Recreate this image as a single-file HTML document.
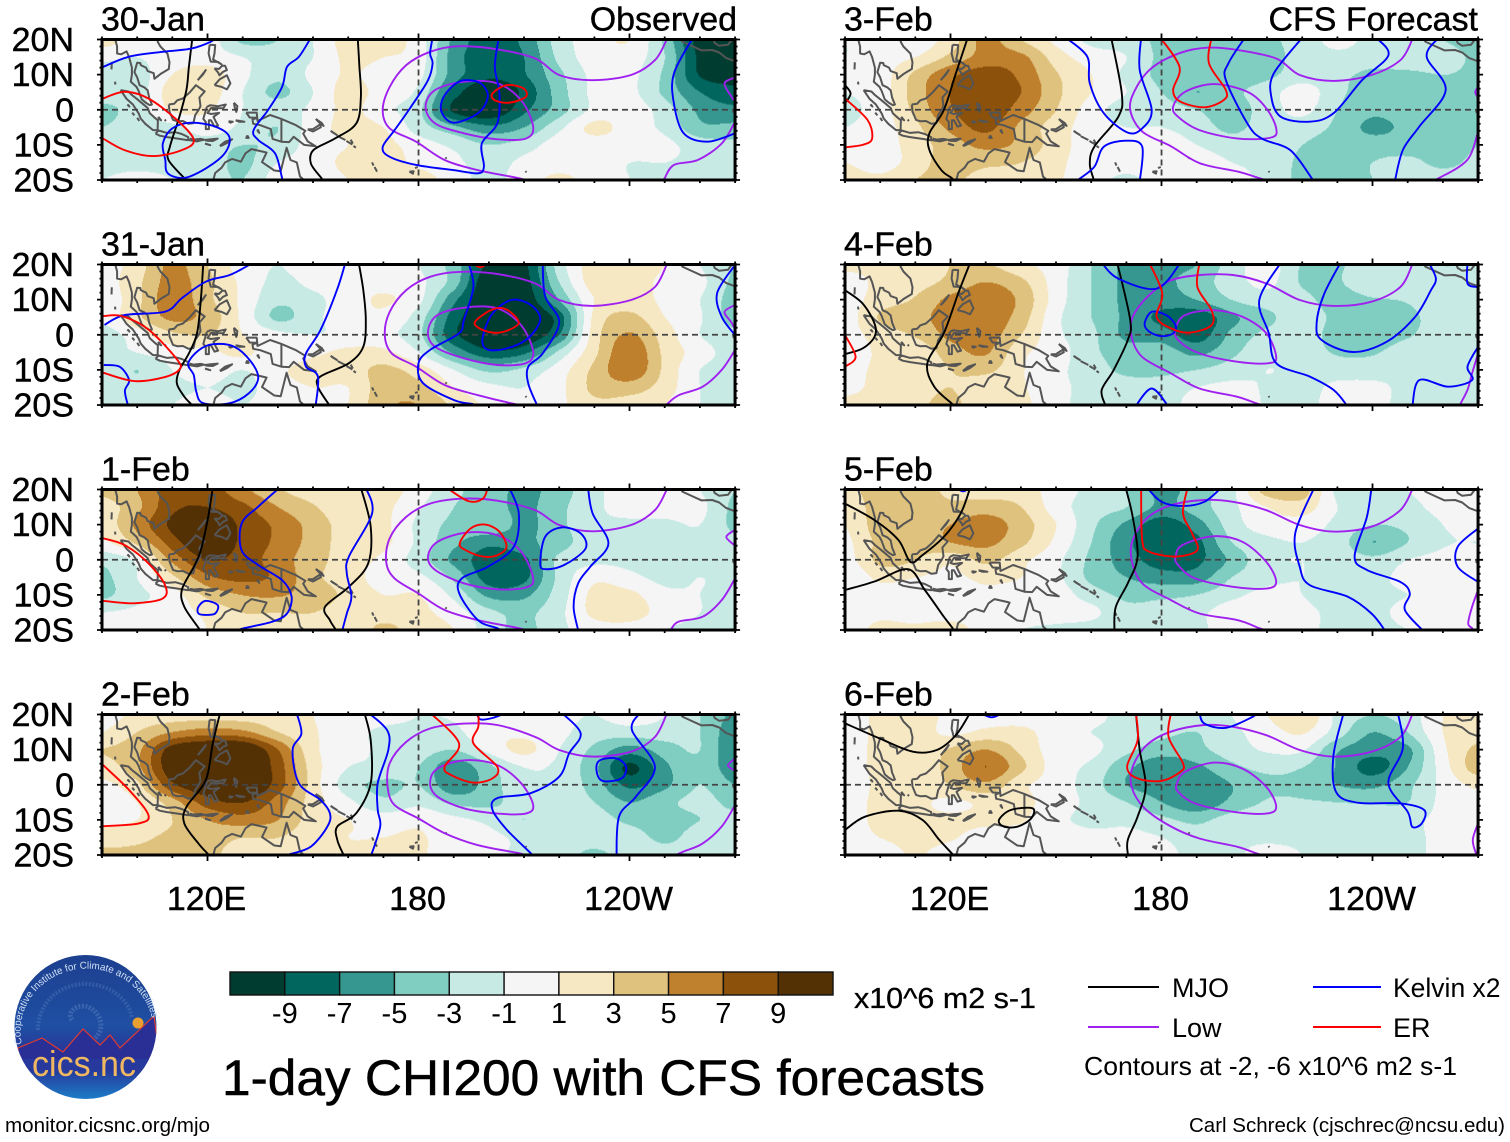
<!DOCTYPE html>
<html lang="en">
<head>
<meta charset="utf-8">
<title>1-day CHI200 with CFS forecasts</title>
<style>
html,body{margin:0;padding:0;background:#fff;}
body{width:1510px;height:1142px;overflow:hidden;}
svg{display:block;font-family:"Liberation Sans",sans-serif;fill:#000;}
</style>
</head>
<body>
<svg id="chart" xmlns="http://www.w3.org/2000/svg" width="1510" height="1142" viewBox="0 0 1510 1142">
  <rect width="1510" height="1142" fill="#fff"/>
  <g id="panels"></g>
  <g id="colorbar"></g>
  <text x="854" y="1008" font-size="29" textLength="182" lengthAdjust="spacingAndGlyphs" stroke="#000" stroke-width="0.3">x10^6 m2 s-1</text>
  <text x="222" y="1095" font-size="50" textLength="763" lengthAdjust="spacingAndGlyphs" stroke="#000" stroke-width="0.5">1-day CHI200 with CFS forecasts</text>
  <g>
    <line x1="1088" x2="1159" y1="987" y2="987" stroke="#000" stroke-width="2"/>
    <text x="1172" y="997" font-size="27">MJO</text>
    <line x1="1313" x2="1381" y1="987" y2="987" stroke="#0000ff" stroke-width="2"/>
    <text x="1393" y="997" font-size="26.5">Kelvin x2</text>
    <line x1="1088" x2="1159" y1="1027" y2="1027" stroke="#a020f0" stroke-width="2"/>
    <text x="1172" y="1037" font-size="27">Low</text>
    <line x1="1313" x2="1381" y1="1027" y2="1027" stroke="#ff0000" stroke-width="2"/>
    <text x="1393" y="1037" font-size="27">ER</text>
    <text x="1084" y="1075" font-size="26" textLength="373" lengthAdjust="spacingAndGlyphs">Contours at -2, -6 x10^6 m2 s-1</text>
  </g>
  <text x="5" y="1132" font-size="20" textLength="205" lengthAdjust="spacingAndGlyphs">monitor.cicsnc.org/mjo</text>
  <text x="1189" y="1132" font-size="20" textLength="316" lengthAdjust="spacingAndGlyphs">Carl Schreck (cjschrec@ncsu.edu)</text>
  <g>
    <defs>
      <linearGradient id="logoSky" x1="0" y1="0" x2="0" y2="1">
        <stop offset="0" stop-color="#1d3f8f"/>
        <stop offset="0.5" stop-color="#1f4fa3"/>
        <stop offset="0.72" stop-color="#2a2f96"/>
        <stop offset="0.82" stop-color="#25409f"/>
        <stop offset="1" stop-color="#1c7cc8"/>
      </linearGradient>
      <clipPath id="logoClip"><ellipse cx="85.5" cy="1027" rx="71" ry="72"/></clipPath>
      <path id="logoArc" d="M 22 1044 A 64 60 0 1 1 152 1018"/>
    </defs>
    <ellipse cx="85.5" cy="1027" rx="71" ry="72" fill="url(#logoSky)"/>
    <path d="M72 1028c-6-8 6-18 18-12s16 24 2 32" transform="translate(0,-8)" fill="none" stroke="#5f86c4" stroke-width="5" stroke-dasharray="2 1.5" opacity="0.45"/>
    <path d="M38 1030c0-28 22-46 48-46s44 18 46 34" fill="none" stroke="#5f86c4" stroke-width="4" stroke-dasharray="2 1.5" opacity="0.35"/>
    <g clip-path="url(#logoClip)">
      <path d="M18 1048L42 1038L54 1046L63 1052L83 1029L100 1045L110 1035L120 1048L154 1016L160 1060L18 1060Z" fill="#2a2f96" stroke="#e03a30" stroke-width="1.2"/>
      <rect x="10" y="1059" width="150" height="12" fill="#27399c"/>
    </g>
    <circle cx="138" cy="1023" r="5.5" fill="#e8a030"/>
    <text font-size="10" fill="#cfe0f5"><textPath href="#logoArc" textLength="202" lengthAdjust="spacingAndGlyphs">Cooperative Institute for Climate and Satellites</textPath></text>
    <text x="84" y="1076" text-anchor="middle" font-size="36" fill="#f0b860" textLength="104" lengthAdjust="spacingAndGlyphs">cics.nc</text>
  </g>
</svg>
<script>
// ---------- Axis data ----------
const gridLons = [90,100,110,120,130,140,150,160,170,180,190,200,210,220,230,240,250,260,270];
const gridLats = [20,15,10,5,0,-5,-10,-15,-20];
const panelDates = ['30-Jan','31-Jan','1-Feb','2-Feb','3-Feb','4-Feb','5-Feb','6-Feb'];
const latTickLabels = ['20N','10N','0','10S','20S'];
const latTickValues = [20,10,0,-10,-20];
const lonTickLabels = ['120E','180','120W'];
const lonTickValues = [120,180,240];
const bandEdges = [-9,-7,-5,-3,-1,1,3,5,7,9];

// ---------- CHI200 anomaly fields (x10^6 m2 s-1), rows by gridLats, columns by gridLons ----------
const chi30Jan = [
[2,0,0,0,-3.5,-3,-1,2,2,0,-5.5,-8,-6.5,-2,0,1,-3.5,-10,-10.5],
[-0.5,-1,0,0,-1,-2,-1,1.5,1,0,-6,-8.2,-7,-2.5,0,0,-3,-9.5,-10.5],
[-2,-2,1,2,-0.5,-2.5,-0.5,1.2,0,-0.5,-6,-8.5,-7.2,-3.5,-0.5,-0.5,-3.5,-9.2,-9.8],
[-2,-2,2,2,-1,-3.5,-1,1.8,0,-1.5,-8,-11,-8.5,-4,-0.5,-0.5,-3.5,-7,-8.5],
[-3.5,-2,1.2,1.2,-1,-2,-0.5,1.5,-0.5,-2.5,-9.5,-11,-7.5,-4,-0.5,0,-2,-5.5,-6.5],
[-3,-2,-1.5,0,-1.5,-3,0,1.5,1,-2,-4.5,-6.5,-5,-1.5,1.5,0,-1.5,-4.5,-4.5],
[-2,-2,-2,-2,-3,-2.5,0,1,1.5,0,-1.5,-3,-2,0,0,0,-0.5,-2,-2.5],
[-2,-2,-2,-2,-3.5,-1,0,1.5,2,0.5,-0.5,-2,-0.5,0,0,-1,-1,-1.5,-2],
[-1,0,-1,-2,-3,0,0,1,2,2,0,-1.5,0,1.5,0,-1,-1.5,-1.5,-2]];
const chi31Jan = [
[0,2,5.5,3,0,-1,0,0,1,-1,-4,-9.5,-9.5,-2,2,2,1,-1,-3],
[0,2.5,5.8,3.5,0.5,-1.5,-0.5,0,0.5,-0.5,-4,-11,-10,-3,2,2,0.5,-0.5,-3.5],
[-0.5,2.5,6.2,3.5,0.5,-2.5,-1.5,0,1.2,-0.5,-6.5,-11,-10.5,-5,1,2,0.5,-1,-4],
[-0.5,2.5,5.5,4.2,0.5,-3.5,-1.5,0,0.5,-2,-8,-11,-11,-8,1.5,3.5,1,-0.8,-4],
[-2,0,2.5,3,1,-0.5,-1,-0.5,-0.5,-2.5,-8.5,-11,-11,-7,2,5.2,2,-1,-2.5],
[-1.5,-1,0,0.5,1.5,-0.5,0.5,1.5,1.5,-1,-5.5,-8.5,-7.5,-2.5,2.5,6.5,2.5,0,-2],
[-1.5,-3,-1,0,-1,0.5,2,2,3.5,2,-1,-3.5,-2.5,0,3.5,6.5,2.5,-1,-2],
[-1.5,-2,-1.5,-1,-1.5,0,1,1,4,3.5,1,-0.5,-1,0.5,3.5,4,2,-1,-2],
[-2,-1,-1,0,-1,0,0.5,1,4.5,5,2.5,0.5,-1,0.5,2.5,2,1,-1,-2]];
const chi1Feb = [
[3.5,5,8,8,5.5,3.2,2,1.5,2,0,-2.5,-4,-5.5,-4,-1.5,0,0,-1,-3],
[2,4.5,8.5,9,7.5,5,3.2,1.5,1.5,-0.8,-3,-4,-5.5,-3.5,-1.5,0,0,-0.5,-3.5],
[1.5,5.5,9.5,11,8.5,6.5,4.2,2,1.5,-1.5,-3.5,-3.5,-5.5,-3.5,-1.5,-1.5,-1.5,-1,-3.5],
[0.5,3.5,8,11,8.5,6.5,4.2,2,1.5,-1.5,-4.5,-6.5,-5.5,-4,-1.5,-1.5,-2,-1.5,-2.5],
[-2.5,-0.5,5.5,9,8,6,3.8,2,0.5,-2,-5.5,-8,-7.5,-2.5,-1.5,-1.5,-1.5,-1.5,-2],
[-3.5,-1,2.5,6.5,7.5,6.5,3.5,2,0,-0.5,-3.5,-8,-7.5,-2.5,0.5,-0.5,-1.5,-1,-1.5],
[-3.5,-1.5,0,3.5,5,5.2,4,2.5,1,1,-1.5,-5.5,-5.5,-2,1.5,1.5,-0.5,-1,-1.5],
[-1,-0.5,0,1.5,3,3,3,2,2,1.5,0,-2.5,-3.5,-1.5,1.5,2,0,-1,-1.5],
[0,1,0,1,2,2,2,1.5,3.5,2,1,-2,-3.5,-1.5,0,0,-1,-1.5,-1.5]];
const chi2Feb = [
[0,1.5,2,2,2,2,1,0,0,-1,-0.8,0,0,-0.5,-1,0,-1,-3,-5.5],
[1,3,5,6,5.5,3,1.2,0,-1.5,-1.5,-1.5,0.5,0.5,-0.5,-2,-2,-2,-3,-6.5],
[3,4.5,10,11.5,11.5,7,1.5,0,-1.5,-2,-3,-0.5,1.5,-1,-3.5,-6,-4,-3,-7],
[2,4.5,10.5,12,12,8,2,-1,-1.5,-3,-6.5,-3.5,-1,-1.5,-4.5,-9.5,-5.5,-3.5,-6.5],
[0.5,2.5,8.5,11,11.5,8,2,-2,-3.5,-3,-6.5,-4,-1.5,-1.5,-4,-7.5,-5.5,-3,-5],
[0,1,4,8,9,6,2,-0.5,-2.5,-1.5,-3.5,-3.5,-2,-1.5,-3,-5,-3.5,-2.5,-3.5],
[0.5,1,3,5,6,5,2,1,0,0.5,-0.5,-1.5,-3,-1.5,-2,-3.5,-4,-3,-2.5],
[2,2.5,3.5,4,3,3,1.5,1,1,1.2,0,-0.5,-1.5,-2,-2,-2,-3.5,-2,-2],
[3.5,3.5,4,3.5,2,2,1.2,1.2,1.2,1.2,0,-0.5,-1.5,-2,-3.5,-2,-2,-2,-2]];
const chi3Feb = [
[-1,-0.5,-0.5,2,5.5,3,0.5,-1.5,-2,-3.5,-4,-4,-3.5,-2,-0.5,-1.5,-2,-3,-4],
[-1,0,1,3.5,5.8,5.5,2,0,-1,-3.5,-3.8,-4,-4,-2,-1.5,-2,-1.5,-2,-3.5],
[-0.5,0,3.5,6.5,8,6.5,3.2,1,-1.5,-3.5,-3.5,-4,-3.5,-2,-2.5,-3.5,-3.5,-3,-3.5],
[-1,0,4,7,8.6,7,3.5,1,-1,-3,-5,-3.5,-2,0,-2.5,-4,-4,-4,-3.5],
[-1.5,0,3.5,6.8,8.4,6,3,0,-2,-2,-3,-4,-2,-0.5,-3,-4.5,-4,-4,-3.5],
[-1,0,2.5,5.5,7.5,4.5,2,0,-1,-1,-2,-3.5,-2,-2,-3.5,-5.5,-4.5,-4,-3],
[0,0,2,4,5.5,4.5,2,0,0,0,-1,-2,-1.5,-3,-4,-4,-4,-4,-3],
[1,0,2,4,3.5,3,1.5,0,0,0,0,-1,-1.5,-3.5,-4,-3,-2.5,-3.5,-2.5],
[2,1.5,3,3.5,2,2,1.2,0,-1.5,0,0,-0.5,-1.5,-3.5,-3.5,-3,-2,-2,-2]];
const chi4Feb = [
[1.5,1.5,1.5,3,3.2,1.5,0,-3,-5.5,-5.5,-5,-2,0,-3.2,-3.2,-2,-1.5,-3,-2.5],
[0,1.5,2.2,3.5,5,3.5,0,-3,-5.5,-5.5,-4,-2,-0.5,-3.2,-3.2,-1.5,-1.5,-2.5,-2],
[0,2,3.2,5.5,6.5,4.5,0,-3,-5.5,-6,-5,-3,-2,-2.5,-3.8,-3.2,-2.8,-1.5,-2],
[0,3.2,4.2,6,6.5,4,-0.5,-3,-5.5,-7.5,-8.5,-5.5,-3.5,-2,-3.5,-3.8,-3.5,-2,-2],
[0,2,3.2,5.5,6,3,-0.5,-2.5,-5.5,-6,-8,-4.5,-2.5,-2,-3.8,-4,-3.2,-2,-2],
[-1,1.5,1.5,4,5.2,1.5,0,-2.5,-4,-4,-5.5,-3.5,-1.5,-2,-3.2,-3.2,-2,-1.5,-2],
[0,1.5,1.5,3,3.5,1.2,-0.5,-2,-3.5,-3.5,-3,-2,-1,-1.5,-2,-2,-1.5,-1.5,-2],
[0.5,1.5,2,3,1.5,1.2,-0.5,-1.5,-2,-2,-1,-0.5,-1.2,-1.8,-0.5,-0.5,-1.5,-1.5,-2],
[1.5,1.5,2.5,3.5,1.5,1.5,-0.5,-1.5,-1.5,-1.5,-0.5,0,-1.2,-1.8,0,-0.5,-1.5,-1.5,-2]];
const chi5Feb = [
[2.5,3.8,4,2.5,2,2,0,-1.5,-3,-5.5,-4,-1.5,4,4,-1.5,-1.5,-1,-0.5,-1],
[1.5,4,4,3.5,4,3,0,-2,-3,-5.5,-4,-1.5,1,2,-1,-2,-1.5,-0.5,-0.5],
[1,4,4,5,6,4,1,-2.5,-5.5,-8.2,-6,-2,0,0,-1.5,-3,-2.5,-1,-0.5],
[0.5,3.5,3.5,5,5.5,3.5,0.5,-3,-6.5,-8.4,-7.6,-3,-1.5,-1,-2,-5,-3,-1.2,-1],
[0,3.5,3,1.5,3.5,1.5,-0.5,-3.5,-6,-8,-7.5,-4.5,-1.5,-1,-1.5,-2.5,-1,-0.5,-0.5],
[-1,1.5,1,0.5,1.5,1,-0.5,-3.5,-5,-6,-6,-3,-1.5,-1,-1.5,-1.5,-0.5,-0.5,-0.5],
[0,0,0,0,0.5,0,0,-2,-3.5,-3.5,-3,-1.5,-0.5,-1,-2,-1.5,-1,-0.5,-0.5],
[0,0.5,0,0,0,0,0,-0.5,-2.5,-2,-1.5,0,0,-0.5,-1.5,-1.5,-0.5,-0.5,-0.5],
[0,1.5,1.5,2,0,-1,-1.5,-2,-3,-2,-1.5,0,0,-0.5,-1.5,-1.5,-1,-0.5,-0.5]];
const chi6Feb = [
[0,1.5,3,0,0,0,0,-0.5,-1.5,-1.5,-2,-1,1,3,-1.5,-3,-2,1,1.5],
[0,1.5,2,0.5,1.5,1.5,0,-1,-1.5,-2.5,-3,-1.5,0,1.2,-2,-5,-3,1,2],
[0,1.5,1.5,3.2,5,2.5,0,-0.5,-2.5,-4,-3.5,-2,-0.8,-0.8,-4.8,-6.2,-5.5,0.5,3.5],
[0,1.5,1.5,3.8,7,3.5,0,-1.5,-4.5,-6.5,-5.5,-3.5,-2.5,-3,-5.2,-7.8,-5,0,4],
[-0.5,1.5,1.5,3,4.5,1.5,0,-2,-5,-6,-6.5,-5,-3.5,-3.5,-5,-5.5,-3.5,-0.5,1.5],
[0,1.5,1.5,0.5,1.5,1.5,0,-1.5,-3,-5,-6.5,-4.5,-2.8,-2.8,-3,-3.2,-3,-0.5,0],
[0,1.5,1.5,1.5,1.5,1.2,-0.5,-1.5,-1.5,-2.5,-3.5,-2,-1.5,-1.5,-1.5,-1.8,-1.5,-0.5,0],
[0,1,1.5,1.2,0,0,0,-0.5,-0.5,-1,-2,-1.5,-1.5,-1.5,-1.5,-1.8,-1.5,-0.5,0],
[0,0,1.2,0,0,0,0,-0.5,-0.5,-0.5,-1.5,-1.5,0,-1,-1.5,-1.8,-1.5,-0.5,0]];

// ---------- Filtered-mode contours: each contour is [lon,lat,lon,lat,...] ----------
const low30Jan = [
[250.6,20,247.2,14.1,240.4,9.9,229.5,8.4,220,9.9,213.2,14.6,202.4,17.2,191.5,18.1,183.3,16.5,176.5,12.7,171.8,6.5,169.8,-0.1,171.8,-5.3,179.3,-9.1,187.4,-14.3,196.9,-17.2,208.5,-19.5,212,-20.5],
[182,0.9,184.7,5.6,192.9,8,202.4,7.5,209.2,2.7,212.6,-4.8,210.5,-8.2,202.4,-8.4,192.9,-6.7,184.7,-3.9,182,0.9],
[270,-3.4,266.2,-9.6,259.4,-14.3,252.6,-15.7,250,-19.5,249.5,-20.5],
[270,9.2,267,7.5,269,3.7,270,2.3]];
const low31Jan = [
[250.6,20,247.2,13.6,240.4,9.9,229.5,8.2,220,9.9,213.2,14.6,202.4,17.3,191.5,17.9,183.3,16.5,176.5,12.7,171.8,6.5,170.4,-0.1,172.4,-5.3,179.3,-9.1,187.4,-14.3,196.9,-17.2,207.7,-19.8,212,-20.5],
[182.7,0.9,185.4,5.6,193.5,7.8,202.4,7.5,209.2,2.7,212.6,-4.8,210.5,-8.1,202.4,-8.6,192.9,-6.7,184.7,-3.4,182.7,0.9],
[270,-4.3,266.2,-10,260.8,-14.8,254,-17.2,250.6,-19.8,250,-20.5],
[270,8.5,267,6.5,269,3.5,270,1.5]];
const low1Feb = [
[250.6,20,247.2,14.1,240.4,9.9,229.5,8.1,220,9.9,213.2,14.1,202.4,16.8,192.9,17.4,183.3,16,176.5,12.2,171.8,6.1,170.8,-0.6,173.2,-5.3,180,-9.6,187.4,-14.3,196.9,-17.2,208.5,-19.5,212,-20.5],
[182.7,0.9,185.4,5.1,193.5,7.7,202.4,7,209.2,2.3,212.6,-5.3,210.5,-7.9,202.4,-8.4,192.9,-6.7,184.7,-2.9,182.7,0.9],
[270,-5.3,266.2,-11.5,260.8,-16.2,254,-17.6,252,-19.5,251.5,-20.5],
[270,8.5,267.5,6.5,270,4]];
const low2Feb = [
[250.6,20.2,247.2,13.6,240.4,9.4,229.5,8,220,9.9,213.2,13.6,202.4,17,192.9,17.4,183.3,16,176.5,12.2,171.8,6.1,171.2,-0.6,173.2,-5.8,180,-9.6,187.4,-13.8,196.9,-17.2,208.5,-19.5,212,-20.5],
[183.3,0.4,185.4,4.6,193.5,7,202.4,5.6,209.2,0.4,212.6,-5.8,210.5,-8.2,202.4,-8.2,192.9,-6.7,185.4,-3.4,183.3,0.4],
[270,-5.8,266.2,-11.9,260.8,-16.7,255.4,-19,252,-20.5],
[270,7.5,268,5.5,270,4]];
const low3Feb = [
[251.3,20,247.9,14.1,239.7,9.9,228.9,8.2,219.3,9.9,212.6,14.6,201.7,17,193.5,17.7,185.4,16.2,177.2,11.9,172.5,5.7,171.1,0,174.5,-6.2,182.7,-10.4,190.8,-15.2,201.7,-17.6,207.8,-19.5,211,-20.5],
[183.3,0.9,186.7,5.1,194.9,7.3,204.4,5.1,209.8,0.4,212.6,-5.3,211.2,-7.9,201.7,-8.2,190.8,-5.8,184.7,-2,183.3,0.9],
[270,-6.3,266.9,-14.3,258.8,-19.5,256,-20.5],
[270,6.5,269.2,5,270,3.5]];
const low4Feb = [
[251.3,20,247.9,13.6,239.7,9.4,228.9,8.2,219.3,9.9,209.8,14.6,200.3,17,190.8,17,182.7,15.5,176.5,11.3,171.8,5.1,171.5,-0.6,174.5,-6.3,182.7,-11,190.8,-15.3,201.7,-17.7,207.8,-19.8,211,-20.5],
[184,1.8,186.7,5.6,194.9,7,203,5.1,209.8,0.4,212.6,-6.3,210.5,-8.1,201.7,-7.7,190.8,-5.3,184.7,-1.5,184,1.8],
[270,-5.3,268.3,-11,267,-15.7,264.9,-19.8,264.5,-20.5]];
const low5Feb = [
[251.3,20,247.9,14.1,239.7,9.4,228.9,8,219.3,9.9,209.8,14.1,200.3,16.5,192.1,17,182.6,15.5,175.8,11.8,171.8,5.6,171.5,-0.1,174.5,-6.7,182.7,-11.5,190.8,-15.3,201.7,-17.2,207.8,-19.5,211,-20.5],
[184,0.9,186,4.2,194.9,6.7,203,5.1,209.8,-0.6,212.6,-6.3,209.8,-8.2,200.3,-7.7,189.5,-5.3,184.7,-1.5,184,0.9],
[270,-8.6,268.3,-13.4,267.2,-18.1,268.3,-19.5,268.8,-20.5]];
const low6Feb = [
[251.3,20,247.9,13.6,239.7,9.4,228.9,8,219.3,9.9,209.8,14.1,200.3,16.5,192.1,17,182.6,15.1,175.8,11.3,171.8,5.1,171.5,-0.6,175.2,-6.7,182.7,-11.9,190.8,-15.3,201.7,-17.7,207.8,-19.8,211,-20.5],
[184.4,0.4,186.7,3.7,194.9,6.3,203,4.6,209.8,-0.6,212.6,-6.3,209.8,-8.2,200.3,-7.7,189.5,-5.3,184.7,-2,184.4,0.4],
[270,-11,268.5,-15.7,269.5,-19.8,270,-20.5]];

const mjo30Jan = [
[115.7,20.5,114.7,12.2,114,5.6,112,-2,109.3,-10.5,108.9,-14.3,113.4,-19.5,114,-20.5],
[162.7,20.5,163.2,12.2,163.6,3.7,162.3,-3.9,156.2,-8.2,150.1,-11.5,149.4,-15.3,152.4,-19.5,153,-20.5]];
const mjo31Jan = [
[118.8,20.5,118.1,9.9,117,0.4,114.7,-5.3,112,-10.1,111.3,-13.9,113.4,-17.6,115.4,-19.8,116,-20.5],
[163,20.5,164.3,12.7,165,4.2,164.3,-3.4,160.2,-8.1,152.1,-11.9,151.4,-14.8,154.5,-19.8,155,-20.5]];
const mjo1Feb = [
[121.5,20.5,120.2,12.2,118.1,2.7,116.1,-2,112.7,-8.6,113.4,-13.4,117.5,-19.5,118,-20.5],
[163.6,20.5,166.4,9.4,165.7,-1,160.2,-7.7,153.4,-13.4,154.8,-17.2,156.2,-19.5,156.8,-20.5]];
const mjo2Feb = [
[123.6,20.5,121.5,11.8,119.5,1.3,114,-6.3,113.4,-11,117.4,-16.7,120.2,-19.8,120.6,-20.5],
[164.6,20.5,166.4,12.7,166.4,0.4,162.3,-8.1,156.9,-11.9,156.9,-15.7,158.6,-19.8,159,-20.5]];
const mjo3Feb = [
[124.9,20.5,121.5,10.3,118.1,-0.1,114,-6.7,114,-11.5,117.4,-17.2,120.4,-19.5,121,-20.5],
[90,7,91.6,4.6,90,1.8],
[165.7,20.5,168.7,4.6,167.7,-2,160.9,-10.5,159.6,-15.3,160.6,-19.5,161,-20.5]];
const mjo4Feb = [
[125.6,20.5,122.2,11.8,118.1,0.4,113.4,-8.2,115.4,-14.8,120.6,-19.8,121,-20.5],
[90,12.7,95,8.9,98.4,3.2,98.4,-0.6,95,-3.9,90,-5.5],
[167.4,20.5,171.1,4.2,170.4,-1.5,166.4,-10,163,-15.7,163.9,-19.8,164,-20.5]];
const mjo5Feb = [
[90,16,98.4,11.3,105.2,5.6,108.6,-0.6,112,1.3,118.1,6.5,122.9,13.2,125.6,20.5],
[90,-8.6,98.4,-6.2,107.9,-2.7,112.7,-8.6,118.1,-16.2,120.6,-19.5,121,-20.5],
[169.8,20.5,171.8,12.2,173.2,0.9,170.4,-6.7,167,-13.4,166.6,-19.5,166.8,-20.5]];
const mjo6Feb = [
[90,17.5,99.8,13.2,109.3,9.4,116.1,9.9,121.5,14.1,125.6,20.5],
[90,-12.9,95.7,-9.1,105.2,-7.4,112,-10,116.8,-15.7,120.6,-19.8,121,-20.5],
[133.8,-10,137.1,-7.2,143.3,-6.7,143,-9.5,139.2,-11.9,135.1,-11.9,133.8,-10],
[172.7,20.5,173.8,9.9,175.5,-0.6,173.2,-9.1,170.4,-15.7,170.4,-19.8,170.4,-20.5]];

const kelvin30Jan = [
[90.3,12.2,97.7,15.1,107.3,16.5,115.4,17.4,120.8,19.3,122.2,20.5],
[107.3,-9.6,110,-5.3,115.4,-3.7,122.2,-4.8,126.2,-7.7,124.9,-12.4,119.5,-16.7,113.4,-19.4,108.7,-18.1,108,-14.3,107.3,-9.6],
[149.4,20.5,146,15.1,142.6,12.2,141.2,6.5,137.2,-0.1,133.1,-5.8,134.4,-8.6,139.2,-12.4,141.2,-19.5,141.5,-20.5],
[184,20.5,183.3,16,184,13.2,182.7,8.4,177.9,0.9,173.2,-5.8,169.8,-10.6,171.8,-13.4,179.3,-15.7,190.1,-17.2,196.9,-18.1,198.6,-16.2,198,-9.6,202.4,-3.9,203,4.7,201.7,12.2,202.8,20.5],
[192.9,8.4,197.7,7.5,199.7,3.7,196.9,-1,190.1,-3.7,186.7,-1,186.7,2.7,189.4,6.5,192.9,8.4],
[258,20.5,252.6,10.3,252.6,1.8,255.4,-6.7,262.2,-9.1,270,-6.7]];
const kelvin31Jan = [
[90.7,2.8,96.4,5.6,108,6.6,112.7,10.4,119.5,15.1,126.3,17,131.7,19.8,133,20.5],
[114.5,-8.2,117.5,-4.4,121.6,-2.7,127.6,-3.4,132.4,-7.7,134.4,-12.4,131.7,-16.7,126.3,-19.5,118.8,-19.5,116.8,-16.2,116.1,-11.5,114.5,-8.2],
[90.5,-8.6,95,-9.1,97.7,-12.9,96.5,-16,97.5,-20.5],
[159.2,20.5,156.8,12.7,152.1,1.3,148,-5.3,148,-9.1,151.4,-11.9,150.7,-20.5],
[194.2,20.5,195.6,13.6,192.9,4.2,191.5,0.4,183.3,-4.3,180,-8.1,181.3,-13.8,190.1,-18.6,195.6,-19.8,197,-20.5],
[199,-3.9,198.3,-0.4,201,6,206.4,9.9,211.9,8.5,214.6,4.2,210.5,-1.5,203.7,-4.2,199,-3.9],
[215.3,20.5,216,11,220,3.5,215.3,-5.3,211.2,-9.1,211.2,-13.9,213.9,-20.5],
[269.6,19.4,264.9,11.8,266.2,5.1,270,-0.1]];
const kelvin1Feb = [
[140.5,20.5,134.4,15.1,129.7,10.3,129.7,2.7,134.4,-1.5,141.2,-5.8,143.9,-10.5,142.6,-15.3,138.5,-17.6,130.4,-19.5,127,-20.5],
[165,20.5,166.8,13.2,160.2,0.9,159.6,-3.9,160.9,-10.5,159.6,-15.3,158.2,-20.5],
[117.4,-13.4,119.5,-11.7,122.9,-12.9,122.2,-15.3,119.5,-15.7,117.4,-15.3,117.4,-13.4],
[205.8,20.5,208.5,13.2,207.1,3.7,199.7,-2,192.3,-5.3,191.6,-9.6,196.9,-17.2,202.4,-19.5,204,-20.5],
[214.6,-1,216,6.5,220.7,9.2,226.1,7.5,227.5,3.2,221.4,-1.5,216,-2.7,214.6,-1],
[228.2,20.5,229.5,13.2,234,4.6,228.8,-2,225.4,-6.7,224.1,-13.4,225.5,-20.5]];
const kelvin2Feb = [
[145.3,20.5,146.7,14.6,144.2,9.9,146,0.4,152.1,-4.3,154.8,-8.1,154.1,-11.9,149.4,-17.6,143.3,-19.8,140,-20.5],
[165.7,20.5,171.1,15.5,171.4,9.9,168.4,0.4,168.4,-7.1,169.1,-11.9,166.4,-20.5],
[196.5,20.5,197.6,18.6,201,19,205,20.5],
[220.7,20.5,226.1,14.6,222.8,8.9,220,2.3,211.9,-2.4,202.4,-3.8,201,-7.1,205.1,-12.8,211.9,-19.5,212.5,-20.5],
[230.6,4.2,231.6,7,236.3,7.5,239,5.1,237.7,1.8,232.3,1.1,230.6,4.2],
[243,20.5,240.7,15.5,247.2,5.1,241.8,-3.4,237,-9.1,236.3,-20.5]];
const kelvin3Feb = [
[152.8,20.5,158.9,15.1,159.6,7.5,163.6,-1,170.4,-6.5,174.5,-5.3,177.2,-0.1,173.8,11.3,174.2,20.5],
[156.2,-20,160.9,-16.2,163.6,-10.5,169.8,-8.8,174.5,-10.5,173.8,-20.5],
[203.7,20.5,199,13.2,198.3,8.4,204.4,-3.9,208.5,-8.2,216.6,-11.5,222.7,-19.5,223.2,-20.5],
[220,20.5,211.9,10.3,211.2,3.7,213.9,-2,222.1,-3.4,228.9,-1,237,8.4,244.5,15.5,241.1,20.5],
[258.8,20.5,255.4,15.1,260.8,5.6,253.3,-4.8,248.6,-11.5,246.3,-20.5]];
const kelvin4Feb = [
[163,20.5,167.7,16,178.6,13.1,185.4,20.5],
[175.2,3.2,177.2,6.5,181.3,5.6,184,2.7,183.3,0.4,180,-0.4,176.5,0.9,175.2,3.2],
[172.5,-20.5,177.2,-15.3,182,-20.5],
[213.9,20.5,207.8,9.9,210.5,0.4,212.6,-8.1,222.1,-11.9,228.9,-15.7,233,-20.5],
[230.9,20.5,226.1,11.3,224.1,3.2,225.5,-1.5,234.3,-4.9,244,-2,252,5,256.5,12.5,258,16,256,20.5],
[267,20.5,267,14.6,269.8,13.6],
[270,-3.4,267,-9.1,268.3,-12.9,261.5,-14.8,253.3,-12.9,251.3,-20.5]];
const kelvin5Feb = [
[121.5,20.5,123.6,19.5,125.6,20.5],
[175.9,20.5,180,16.5,186,15.3,192.2,16.5,197,20.5],
[223.4,20.5,218,7.5,219.3,-2,222.1,-7.2,232.9,-10.5,239.7,-15.3,243.8,-20.5],
[239.7,20.5,238.4,12.2,234.9,0.9,238.4,-2.9,247.9,-6.3,250.6,-9.6,249.2,-14.3,254.7,-20.5],
[270,8.9,264.2,3.7,264.2,-2,270,-6.3]];
const kelvin6Feb = [
[128.3,20.5,131.7,19.2,135.1,20.5],
[190.8,20.5,192.2,17.4,198.3,16.2,205.8,19.3,207,20.5],
[231.8,20.5,228.9,8.4,229.6,-2,235.7,-5.1,247.9,-5.3,254.7,-7.2,254,-11,251.3,-12,250,-7.7,244.5,0.4,248.6,10.4,247.2,20.5]];

const er30Jan = [
[90.3,3.2,96.4,5.1,103.2,3.2,111.3,-2.9,116.1,-8.6,112.7,-11.5,104.6,-13.2,96.4,-11.5,90.3,-8.2],
[201,4.6,205,7,209.8,6.1,210.5,3.7,205.8,2,201.7,2.7,201,4.6]];
const er31Jan = [
[90.3,5.3,95.7,5.3,103.2,1.5,111.3,-7,112,-9.9,107.3,-12.2,99.1,-13.2,90.3,-10.8],
[196.2,3.9,201,7.2,205,7.2,208.5,3.5,205,1.1,201,0.6,197,2,196.2,3.9],
[195,20.5,197.6,19.2,199.7,20.5]];
const er1Feb = [
[90.3,6.1,96.4,4.2,103.2,-1,107.9,-7.2,107.3,-11,99.1,-12.4,90.3,-11.7],
[188,20.5,194.2,16.7,198.3,17.4,199.7,20.5],
[191.7,4.6,194.8,8.9,199,10,203,8,205,3.7,202.4,1.3,198.3,0.9,193.5,2.7,191.7,4.6]];
const er2Feb = [
[90.3,5.6,97.7,-1.5,103.2,-8.6,100.5,-11,90.3,-11.8],
[183.3,20.5,191.5,11.8,187.4,5.1,189.4,2.7,195.6,0.6,201,1.8,202.4,5.1,195.6,11.8,197,16.5,197,20.5]];
const er3Feb = [
[90,3.2,96.4,-2.9,97.7,-8.2,95,-10,90,-10.7],
[179.7,20.5,185.1,12.2,183.3,5.6,185.4,2.3,192.2,0.7,197.6,2.7,198.3,5.6,193.5,13.2,194.2,20.5]];
const er4Feb = [
[90,-0.1,93,-6.3,90,-9.1],
[176.5,20.5,180.2,11.8,178.6,5.1,182.7,1.8,188.1,0.6,194.2,2.7,194.2,7,190.2,13.6,190.8,20.5]];
const er5Feb = [
[174.2,20.5,174.5,5.6,176.5,2.3,184,0.9,190.1,2.7,188.7,7.5,186.1,13.2,187.4,20.5]];
const er6Feb = [
[172.7,20.5,173.2,12.7,170.2,5.1,173.2,1.8,180,1.1,185.4,3.7,186.1,6.1,182,13.6,182.7,20.5]];

// ---------- Coastlines (lon,lat pairs) ----------
const coastlines = [
[93.5,21,94.3,18,94.3,16,95.5,15.8,97,16.6,97.7,15,98.5,12,98.5,10,98.2,8,99.8,6.5,100.4,5.4,101.3,3,102.3,2.1,103.6,1.3,104.2,1.5,103.4,3.5,103,5.5,102,6.4,100.7,7,100,9.2,99.2,10.7,100,13.4,100.9,13.3,101,12.7,102.5,12,103,11,104.7,10.4,104.9,8.8,106.8,10.3,109,11.6,109.2,13.5,108.6,16,106.6,18,105.8,19.4,106.5,21],
[95.3,5.6,97,3.1,98.8,1.5,100.4,-1,101,-2.5,102.3,-4,104.5,-5.8,105.8,-5.8,105.9,-3,104.7,-2,103.6,-1,103,0.5,101.2,2,100,3,98.5,4.2,97.5,5.2,95.3,5.6],
[105.2,-6.8,106.1,-5.9,108.5,-6.6,110.8,-6.4,112.7,-6.9,114.5,-7.8,114.5,-8.7,112,-8.3,108.5,-7.8,106.4,-7.4,105.2,-6.8],
[115,-8.2,116,-8.5,118,-8.3,119,-8.5,117,-9,115,-8.7,115,-8.2],
[119.2,-8.6,121,-8.4,122.9,-8.2,121.5,-8.9,119.9,-8.8,119.2,-8.6],
[119.3,-9.6,120.8,-10.1,119.7,-9.8,119.3,-9.6],
[123.5,-10.3,125,-9.1,127,-8.4,125.5,-9.5,124,-10.2,123.5,-10.3],
[109,1.5,110.5,1.7,111.4,2.7,113,3.2,115,5,116.7,7,119.2,5.2,117.7,3.5,118,1,117.5,0,116.5,-1.5,116,-3.8,114.6,-4,113,-3.2,111.5,-3.3,110.2,-2.9,109.2,-0.5,109,1.5],
[119.8,0.8,120.8,1.3,123,1,125.2,1.5,124.5,0.4,121,0.5,120,-0.9,121,-1.2,123.3,-0.9,121.7,-2,122.4,-3.5,123,-4.5,122,-4.8,121,-3,120.4,-3,120.4,-5.5,119.5,-5.5,119.5,-3.5,118.8,-2.6,119.8,0.8],
[120.6,18.5,122.2,18.4,122,16,121.6,14.3,124,12.9,123,13.6,120.9,13.7,120.3,16,120.6,18.5],
[122,7,123.5,8.7,125.5,9.8,126.5,7.5,125.5,5.8,124,6.5,122,7],
[117.2,8.4,119.5,11.3,118.7,10,117.2,8.4],
[122,11.8,123,10.6,123.4,9.8,124.4,10.8,125.5,11.3,125,12.5,124.2,12.5,123.2,11.6,122,11.8],
[131,-0.8,134,-0.8,134.2,-3.2,137.8,-1.5,141,-2.6,145,-4.3,147.8,-6,147.2,-6.8,148.5,-9,150.8,-10.4,147.5,-10,144.5,-7.7,143.2,-9.2,141,-9.1,138.5,-8.3,138,-5.5,135,-4.4,133,-4,132.8,-2.8,134,-2.3,132,-2.2,131,-0.8],
[141,-2.6,141,-9.1],
[148.5,-5.6,150,-5.5,152,-4.2,152.2,-5,150,-6.2,148.5,-5.6],
[150.8,-2.6,152.5,-3.8,153,-4.6,152,-3.9,150.8,-2.6],
[121.5,-20.5,122.2,-18,124,-16.5,125,-15,127,-14,129.5,-14.8,130.8,-12.4,132.5,-11.2,136,-12,136.8,-12.2,135.5,-14.9,139,-17.3,140.8,-17.5,141.7,-14,142.5,-10.8,143.6,-14.3,145.4,-15,146.3,-19,148,-20.5],
[127.5,2,128.5,1,128.2,-0.6,127.7,0.8,127.5,2],
[128,-3,130.5,-3.4,129,-3.4,128,-3],
[126,-3.3,127.2,-3.4,126.5,-3.7,126,-3.3],
[134.3,-5.6,134.7,-6.6,134.2,-6,134.3,-5.6],
[131.3,-7.3,131.7,-8,131,-8,131.3,-7.3],
[92.8,13.5,92.7,11.5],
[93.7,8,93.8,7.2],
[97.2,1.5,97.8,0.9,97.4,1.5],
[98.6,-0.8,99.2,-1.6],
[100,-2.3,100.6,-3.2],
[106,-2,106.8,-3,106.2,-2.6,106,-2],
[107.8,-2.8,108.2,-3.2],
[155,-6,156.8,-7.2,155.8,-6.6,155,-6],
[157,-7.5,159.2,-8.6],
[159.5,-8.9,161.2,-9.9],
[160.7,-8.5,161.3,-9.6],
[161.5,-10.3,162.2,-10.8],
[166.8,-15,167.2,-15.9],
[167.5,-16.3,168.2,-17.6],
[177.4,-17.6,178.6,-17.5,178.4,-18.2,177.4,-17.6],
[179,-16.6,179.8,-16.3],
[187.6,-13.6,188,-13.9],
[210.4,-17.5,210.7,-17.8],
[254.5,20.5,255,19.4,258,18,260.5,16.9,263.5,17,265.5,16.3,267.5,14.7,270,13.8],
[263.6,20.5,264.2,19,265.5,18.2,268,18.5,269.5,20.5,270,19.8],
[269.3,-0.4,269.7,-0.8,269.6,-0.2,269.3,-0.4]
];

// ---------- Layout, axes and styling ----------
const svg = document.getElementById('chart');
const panelsLayer = document.getElementById('panels');
const NS = 'http://www.w3.org/2000/svg';
const columnLefts = [102, 845];
const rowTops = [39.5, 264.5, 489.5, 714.5];
const PX_PER_LON = 3.517;
const PX_PER_LAT = 3.5125;
const PANEL_W = 180 * PX_PER_LON;
const PANEL_H = 40 * PX_PER_LAT;
const TEXT_SX = 1.03;
const bandPalette = ['#003c30','#01665e','#35978f','#80cdc1','#c7eae5','#f5f5f5','#f6e8c3','#dfc27d','#bf812d','#8c510a','#543005'];

function xOf(x0, lon){ return x0 + (lon - gridLons[0]) * PX_PER_LON; }
function yOf(y0, lat){ return y0 + (gridLats[0] - lat) * PX_PER_LAT; }
function el(tag, attrs, parent){
  const n = document.createElementNS(NS, tag);
  for (const k in attrs) n.setAttribute(k, attrs[k]);
  if (parent) parent.appendChild(n);
  return n;
}
function cr(a,b,c,d,t){ return b + 0.5*t*(c-a + t*(2*a-5*b+4*c-d + t*(3*(b-c)+d-a))); }
function sample(grid, lon, lat){
  const ny = gridLats.length, nx = gridLons.length;
  const u = (lon - gridLons[0]) / (gridLons[1]-gridLons[0]);
  const v = (gridLats[0] - lat) / (gridLats[0]-gridLats[1]);
  const i = Math.min(Math.floor(u), nx-2), j = Math.min(Math.floor(v), ny-2);
  const fx = u-i, fy = v-j;
  const vals = [];
  for (let r=-1;r<=2;r++){
    const row = grid[Math.max(0,Math.min(ny-1,j+r))];
    vals.push(cr(row[Math.max(0,i-1)],row[i],row[i+1],row[Math.min(nx-1,i+2)],fx));
  }
  return cr(vals[0],vals[1],vals[2],vals[3],fy);
}
function bandIndex(v){
  let k = 0;
  while (k < bandEdges.length && v >= bandEdges[k]) k++;
  return k;
}
function smoothPath(x0, y0, flat){
  const pts = [];
  for (let i=0;i<flat.length;i+=2) pts.push([xOf(x0,flat[i]), yOf(y0,flat[i+1])]);
  const closed = flat.length>4 && flat[0]===flat[flat.length-2] && flat[1]===flat[flat.length-1];
  const n = pts.length;
  const get = function(i){
    if (closed) return pts[((i % (n-1)) + (n-1)) % (n-1)];
    return pts[Math.max(0,Math.min(n-1,i))];
  };
  let d = 'M'+pts[0][0].toFixed(1)+' '+pts[0][1].toFixed(1);
  for (let i=0;i<n-1;i++){
    const p0=get(i-1),p1=get(i),p2=get(i+1),p3=get(i+2);
    d += 'C'+(p1[0]+(p2[0]-p0[0])/6).toFixed(1)+' '+(p1[1]+(p2[1]-p0[1])/6).toFixed(1)+' '
        +(p2[0]-(p3[0]-p1[0])/6).toFixed(1)+' '+(p2[1]-(p3[1]-p1[1])/6).toFixed(1)+' '
        +p2[0].toFixed(1)+' '+p2[1].toFixed(1);
  }
  return d;
}
function linePath(x0, y0, flat){
  let d = '';
  for (let i=0;i<flat.length;i+=2){
    d += (i?'L':'M')+xOf(x0,flat[i]).toFixed(1)+' '+yOf(y0,flat[i+1]).toFixed(1);
  }
  return d;
}
function bigText(parent, x, y, str, anchor){
  const t = el('text', {transform:'translate('+x+','+y+') scale('+TEXT_SX+',1)', 'font-size':33, 'text-anchor':anchor, stroke:'#000', 'stroke-width':0.4}, parent);
  t.textContent = str;
  return t;
}

const chiFields = [chi30Jan,chi31Jan,chi1Feb,chi2Feb,chi3Feb,chi4Feb,chi5Feb,chi6Feb];
const lowSeries = [low30Jan,low31Jan,low1Feb,low2Feb,low3Feb,low4Feb,low5Feb,low6Feb];
const mjoSeries = [mjo30Jan,mjo31Jan,mjo1Feb,mjo2Feb,mjo3Feb,mjo4Feb,mjo5Feb,mjo6Feb];
const kelvinSeries = [kelvin30Jan,kelvin31Jan,kelvin1Feb,kelvin2Feb,kelvin3Feb,kelvin4Feb,kelvin5Feb,kelvin6Feb];
const erSeries = [er30Jan,er31Jan,er1Feb,er2Feb,er3Feb,er4Feb,er5Feb,er6Feb];

function drawSeries(group, x0, y0, lines, color, name){
  lines.forEach(function(flat){
    const p = el('path', {d:smoothPath(x0,y0,flat), fill:'none', stroke:color, 'stroke-width':1.9, 'stroke-linejoin':'round'}, group);
    
    
  });
}

panelDates.forEach(function(date, idx){
  const col = idx < 4 ? 0 : 1;
  const row = idx % 4;
  const x0 = columnLefts[col];
  const y0 = rowTops[row];
  const g = el('g', {}, panelsLayer);
  
  

  const clipId = 'clip' + idx;
  const cp = el('clipPath', {id:clipId}, g);
  el('rect', {x:x0, y:y0, width:PANEL_W, height:PANEL_H}, cp);

  // shading bands drawn from the field via row runs
  const runs = bandPalette.map(function(){ return []; });
  const w = Math.round(PANEL_W), h = Math.round(PANEL_H);
  for (let py=0; py<h; py++){
    const lat = gridLats[0] - (py+0.5)/PX_PER_LAT;
    let start = 0, cur = -1;
    for (let px=0; px<=w; px++){
      let b = -2;
      if (px<w) b = bandIndex(sample(chiFields[idx], gridLons[0] + (px+0.5)/PX_PER_LON, lat));
      if (b !== cur){
        if (cur >= 0) runs[cur].push('M'+(x0+start)+' '+(y0+py)+'h'+(px-start)+'v1h'+(start-px)+'z');
        cur = b; start = px;
      }
    }
  }
  const shade = el('g', {'clip-path':'url(#'+clipId+')', 'shape-rendering':'crispEdges'}, g);
  
  
  runs.forEach(function(r, k){
    if (!r.length) return;
    const p = el('path', {d:r.join(''), fill:bandPalette[k], stroke:bandPalette[k], 'stroke-width':0.3}, shade);
    
    
  });

  const overlay = el('g', {'clip-path':'url(#'+clipId+')'}, g);
  
  

  const coast = el('path', {d:coastlines.map(function(c){return linePath(x0,y0,c);}).join(''), fill:'none', stroke:'#555', 'stroke-width':2, 'stroke-linejoin':'round'}, overlay);
  
  

  const eq = el('line', {x1:x0, x2:x0+PANEL_W, y1:yOf(y0,0), y2:yOf(y0,0), stroke:'#444', 'stroke-width':1.8, 'stroke-dasharray':'6 4'}, overlay);
  
  

  const dl = el('line', {x1:xOf(x0,180), x2:xOf(x0,180), y1:y0, y2:y0+PANEL_H, stroke:'#444', 'stroke-width':1.8, 'stroke-dasharray':'6 4'}, overlay);
  
  

  drawSeries(overlay, x0, y0, lowSeries[idx], '#a020f0', 'low-frequency-contour');
  drawSeries(overlay, x0, y0, mjoSeries[idx], '#000000', 'mjo-contour');
  drawSeries(overlay, x0, y0, kelvinSeries[idx], '#0000ff', 'kelvin-contour');
  drawSeries(overlay, x0, y0, erSeries[idx], '#ff0000', 'er-contour');

  // ticks
  let tickD = '';
  for (let lon=90; lon<=270; lon+=10){
    const major = lonTickValues.indexOf(lon) >= 0;
    const len = major ? 6 : 3;
    const x = xOf(x0,lon).toFixed(1);
    tickD += 'M'+x+' '+(y0-len)+'V'+y0+'M'+x+' '+(y0+PANEL_H)+'v'+len;
  }
  for (let lat=-20; lat<=20; lat+=2){
    const major = lat % 10 === 0;
    const len = major ? 5 : 2.5;
    const y = yOf(y0,lat).toFixed(1);
    tickD += 'M'+(x0-len)+' '+y+'H'+x0+'M'+(x0+PANEL_W)+' '+y+'h'+len;
  }
  const ticks = el('path', {d:tickD, stroke:'#000', 'stroke-width':1.8, fill:'none'}, g);
  
  

  const frame = el('rect', {x:x0, y:y0, width:PANEL_W, height:PANEL_H, fill:'none', stroke:'#000', 'stroke-width':3}, g);
  
  

  const title = bigText(g, x0-1, y0-9, date, 'start');
  
  

  if (col === 0){
    latTickLabels.forEach(function(lbl, i){
      const t = bigText(g, 74, yOf(y0,latTickValues[i])+11.5, lbl, 'end');
      
      
    });
  }
  if (row === 3){
    lonTickLabels.forEach(function(lbl, i){
      const t = bigText(g, xOf(x0,lonTickValues[i])-1, 910, lbl, 'middle');
      
      
    });
  }
});

const obs = bigText(panelsLayer, 737, 30.5, 'Observed', 'end');


const fcs = bigText(panelsLayer, 1478, 30.5, 'CFS Forecast', 'end');



// colorbar
const cbLayer = document.getElementById('colorbar');
const CB_X = 230, CB_Y = 972, CB_W = 54.82, CB_H = 23;
bandPalette.forEach(function(color, i){
  const r = el('rect', {x:CB_X+i*CB_W, y:CB_Y, width:CB_W, height:CB_H, fill:color, stroke:'#111', 'stroke-width':1.4}, cbLayer);
  
  
});
bandEdges.forEach(function(edge, i){
  const t = el('text', {x:CB_X+(i+1)*CB_W, y:1023, 'font-size':29, 'text-anchor':'middle'}, cbLayer);
  t.textContent = String(edge);
  
  
});
</script>
</body>
</html>
